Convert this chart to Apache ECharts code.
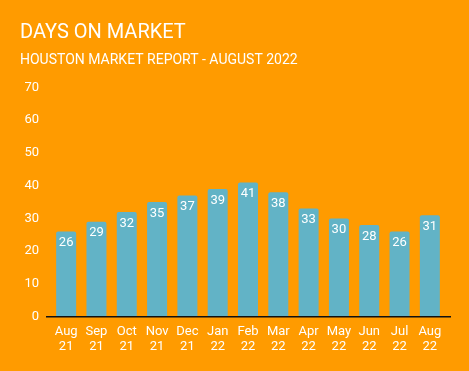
<!DOCTYPE html>
<html><head><meta charset="utf-8">
<script src="https://cdn.jsdelivr.net/npm/echarts@6/dist/echarts.min.js"></script>
<style>html,body{margin:0;padding:0;background:#FF9B00;}#c{width:469px;height:371px;}</style>
</head><body><div id="c"></div>
<script>
var categories = ['Aug\n21','Sep\n21','Oct\n21','Nov\n21','Dec\n21','Jan\n22','Feb\n22','Mar\n22','Apr\n22','May\n22','Jun\n22','Jul\n22','Aug\n22'];
var daysOnMarket = [26,29,32,35,37,39,41,38,33,30,28,26,31];
var yTicks = {min:0, max:70, interval:10};

var chart = echarts.init(document.getElementById('c'), null, {renderer:'canvas'});
var F = 'Roboto, sans-serif';
chart.setOption({
  backgroundColor:'#FF9B00',
  animation:false,
  title:[
    {text:'DAYS ON MARKET', left:20, top:23, padding:0, textStyle:{color:'#fff', fontFamily:F, fontWeight:'normal', fontSize:20}},
    {text:'HOUSTON MARKET REPORT - AUGUST 2022', left:20, top:53, padding:0, textStyle:{color:'#fff', fontFamily:F, fontWeight:'normal', fontSize:14}}
  ],
  grid:{left:51, right:24, top:87.4, bottom:54.3},
  graphic:[{type:'line', shape:{x1:46, y1:316.7, x2:451, y2:316.7}, style:{stroke:'#111', lineWidth:1.5}, z:10}],
  xAxis:{type:'category', data:categories,
    axisLine:{show:false}, axisTick:{show:false},
    axisLabel:{color:'#fff', fontFamily:F, fontSize:13, lineHeight:15, margin:8, interval:0}},
  yAxis:{type:'value', min:yTicks.min, max:yTicks.max, interval:yTicks.interval,
    splitLine:{show:false}, axisLine:{show:false}, axisTick:{show:false},
    axisLabel:{color:'#fff', fontFamily:F, fontSize:13, margin:12}},
  series:[{type:'bar', data:daysOnMarket, barWidth:20,
    itemStyle:{color:'#62B3C6', borderRadius:[2,2,0,0]},
    label:{show:true, position:'insideTop', distance:5, color:'#fff', fontFamily:F, fontSize:13}}]
});
</script></body></html>
